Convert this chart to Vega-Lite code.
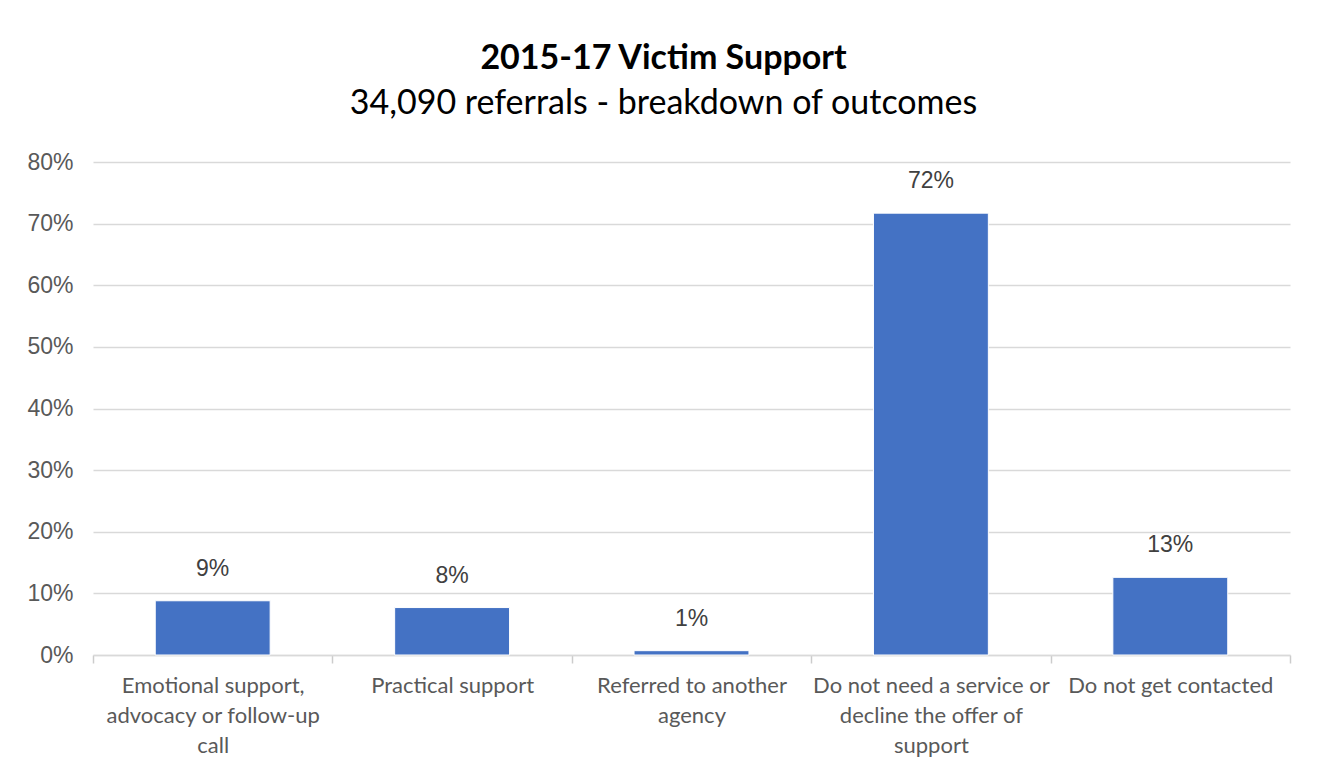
{
  "$schema": "https://vega.github.io/schema/vega-lite/v6.json",
  "width": 1197,
  "height": 493,
  "autosize": {"type": "none"},
  "padding": {"left": 93, "top": 162, "right": 32, "bottom": 116},
  "background": "white",
  "title": {
    "text": "2015-17 Victim Support",
    "subtitle": "34,090 referrals - breakdown of outcomes",
    "anchor": "middle",
    "dx": -28,
    "offset": 30,
    "font": "Lato",
    "fontSize": 34,
    "fontWeight": "bold",
    "color": "#000000",
    "subtitleFont": "Lato",
    "subtitleFontSize": 34,
    "subtitleColor": "#000000",
    "subtitlePadding": 11
  },
  "data": {
    "values": [
      {"outcome": "Emotional support,|advocacy or follow-up|call", "share": 0.088},
      {"outcome": "Practical support", "share": 0.077},
      {"outcome": "Referred to another|agency", "share": 0.007},
      {"outcome": "Do not need a service or|decline the offer of|support", "share": 0.717},
      {"outcome": "Do not get contacted", "share": 0.126}
    ]
  },
  "encoding": {
    "x": {
      "field": "outcome",
      "type": "nominal",
      "sort": null,
      "scale": {"paddingInner": 0, "paddingOuter": 0},
      "axis": {
        "title": null,
        "labelAngle": 0,
        "labelExpr": "datum.value ? split(datum.value, '|') : ''",
        "labelFont": "Lato",
        "labelFontSize": 22,
        "labelColor": "#595959",
        "labelLineHeight": 30,
        "labelBaseline": "top",
        "labelPadding": 12,
        "labelLimit": 300,
        "ticks": true,
        "tickBand": "extent",
        "tickSize": 8,
        "tickWidth": 1.5,
        "tickColor": "#cccccc",
        "domainColor": "#d9d9d9",
        "domainWidth": 1.5,
        "grid": false
      }
    },
    "y": {
      "field": "share",
      "type": "quantitative",
      "scale": {"domain": [0, 0.8]},
      "axis": {
        "title": null,
        "values": [0, 0.1, 0.2, 0.3, 0.4, 0.5, 0.6, 0.7, 0.8],
        "format": ".0%",
        "labelFont": "Liberation Sans",
        "labelFontSize": 23,
        "labelColor": "#595959",
        "labelPadding": 20,
        "domain": false,
        "ticks": false,
        "grid": true,
        "gridColor": "#d9d9d9",
        "gridWidth": 1.5
      }
    }
  },
  "layer": [
    {
      "mark": {"type": "bar", "color": "#4472C4", "stroke": "white", "strokeWidth": 1, "width": {"band": 0.48}}
    },
    {
      "mark": {"type": "text", "baseline": "bottom", "dy": -20, "font": "Liberation Sans", "fontSize": 23, "color": "#404040"},
      "encoding": {
        "text": {"field": "share", "type": "quantitative", "format": ".0%"}
      }
    }
  ],
  "config": {
    "view": {"stroke": null}
  }
}
